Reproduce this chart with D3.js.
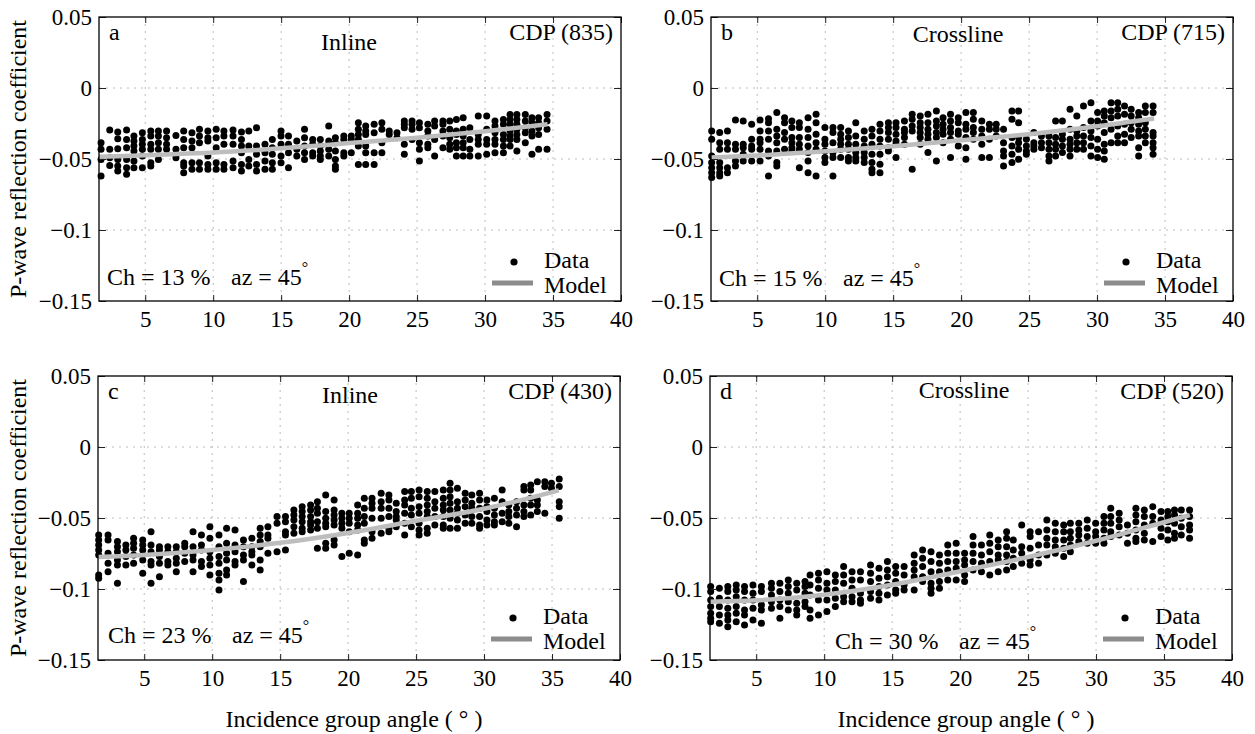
<!DOCTYPE html>
<html>
<head>
<meta charset="utf-8">
<script src="https://cdn.jsdelivr.net/npm/d3@7"></script>
<style>
  body { margin: 0; background: #fff; }
  svg { display: block; font-family: "Liberation Serif", "Times New Roman", serif; }
</style>
</head>
<body>
<svg id="chart" width="1255" height="734"></svg>
<script>
// Reflection coefficients are kept in units of 1e-3 (divided by 1000 when drawn)

// panel a - Inline, CDP (835)
var aAngles = [1.75, 2.39, 2.98, 3.63, 4.17, 4.79, 5.41, 5.97, 6.57, 7.26, 7.83, 8.44, 8.99, 9.61, 10.22, 10.79, 11.46, 12.08, 12.62, 13.19, 13.81, 14.35, 14.99, 15.54, 16.15, 16.72, 17.32, 17.88, 18.5, 18.99, 19.61, 20.16, 20.68, 21.22, 21.84, 22.41, 22.95, 23.52, 24.06, 24.63, 25.17, 25.79, 26.29, 26.9, 27.4, 27.89, 28.39, 28.88, 29.5, 30.12, 30.73, 31.35, 31.84, 32.34, 32.96, 33.45, 33.94, 34.56];
var aVals = [
  [-38.5,-43.2,-50.3,-62.0], [-29.6,-43.2,-49.1,-54.5], [-31.0,-35.7,-42.7,-50.3,-55.0,-58.5],
  [-29.6,-36.2,-42.0,-50.3,-56.1,-60.8], [-33.8,-37.3,-40.9,-44.4,-51.4,-56.1], [-31.5,-36.2,-39.7,-43.2,-47.9,-56.1],
  [-30.3,-33.8,-39.7,-43.2,-52.6,-55.0], [-30.3,-33.8,-38.5,-43.2,-50.3], [-30.3,-35.0,-39.7,-43.2],
  [-33.4,-43.2,-49.1], [-30.3,-36.2,-42.0,-52.6,-55.0,-59.6], [-31.5,-37.3,-42.0,-52.6,-57.3],
  [-29.1,-33.8,-38.5,-52.6,-57.3], [-30.3,-35.0,-37.3,-47.9,-53.8,-57.3], [-29.1,-35.0,-42.0,-52.6,-57.3],
  [-30.3,-33.8,-39.7,-53.8,-57.3], [-29.6,-33.8,-39.7,-51.4,-56.1], [-31.0,-36.2,-40.9,-45.6,-53.8,-58.5],
  [-30.3,-40.9,-50.3,-55.0], [-28.0,-40.9,-46.7,-53.8,-58.5], [-39.7,-45.6,-51.4,-57.3],
  [-36.2,-42.0,-46.7,-52.6,-57.3], [-30.3,-33.8,-39.7,-47.9,-52.6], [-33.8,-39.7,-45.6,-56.1],
  [-37.3,-43.2,-47.9], [-29.1,-35.0,-40.9,-45.6,-50.3], [-36.2,-39.7,-45.6,-47.9],
  [-36.2,-40.9,-44.4,-47.9,-50.3], [-26.8,-37.3,-43.2,-47.9], [-35.0,-38.5,-44.4,-50.3,-55.0,-57.3],
  [-33.8,-36.2,-45.6,-47.9], [-33.8,-36.2,-45.6], [-24.4,-29.1,-32.7,-36.2,-40.9,-53.8],
  [-26.8,-30.3,-32.7,-40.9,-45.6,-53.8], [-25.6,-31.5,-45.6,-53.8], [-24.4,-29.1,-38.5,-45.6],
  [-30.3,-32.7], [-31.5,-35.0], [-23.3,-25.6,-28.0,-39.7,-46.7],
  [-23.3,-25.6,-29.1,-36.2], [-24.4,-28.0,-38.5,-43.2,-51.4], [-25.6,-30.3,-33.8,-39.7,-42.0],
  [-23.3,-26.8,-36.2,-47.9], [-23.3,-25.6,-30.3,-33.8,-42.0], [-23.3,-29.1,-35.0,-39.7,-43.2],
  [-22.1,-30.3,-32.7,-38.5,-42.0,-47.9], [-20.9,-29.1,-33.8,-38.5,-42.0,-47.9], [-28.0,-36.2,-43.2,-47.9],
  [-19.7,-32.7,-36.2,-39.7,-47.9], [-19.7,-29.1,-36.2,-39.7,-46.7], [-23.3,-26.8,-31.5,-36.2,-39.7,-45.6],
  [-22.1,-25.6,-32.7,-36.2,-40.9,-45.6], [-18.6,-22.1,-25.6,-30.3,-33.8,-36.2,-40.9], [-18.6,-22.1,-25.6,-29.1,-32.7,-36.2,-44.4],
  [-18.6,-23.3,-28.0,-31.5,-38.5], [-20.9,-24.4,-30.3,-33.8,-46.7], [-20.9,-24.4,-28.0,-32.7,-43.2],
  [-18.6,-23.3,-29.1,-43.2]
];
var aModelAngles = [1.6, 5, 10, 15, 20, 25, 30, 34.6];
var aModel = [-48.5, -47.3, -45.5, -42.5, -38.8, -35, -30.5, -25.6];

// panel b - Crossline, CDP (715)
var bAngles = [1.65, 2.24, 2.81, 3.40, 3.97, 4.59, 5.21, 5.83, 6.44, 7.01, 7.55, 8.10, 8.74, 9.33, 9.98, 10.57, 11.14, 11.71, 12.25, 12.87, 13.44, 14.03, 14.65, 15.21, 15.83, 16.40, 16.99, 17.56, 18.18, 18.67, 19.22, 19.79, 20.35, 20.90, 21.52, 22.08, 22.58, 23.12, 23.74, 24.23, 24.80, 25.35, 25.91, 26.46, 26.95, 27.45, 28.01, 28.51, 29.00, 29.55, 30.04, 30.53, 31.03, 31.52, 32.02, 32.51, 33.06, 33.55, 34.12];
var bVals = [
  [-30.2,-36.1,-47.8,-52.5,-56.1,-59.6,-63.1], [-31.4,-38.5,-43.2,-52.5,-56.1,-59.6,-61.9], [-30.2,-38.5,-43.2,-56.1,-59.6],
  [-22.5,-39.6,-43.2,-51.4,-54.9], [-23.2,-39.6,-42.0,-46.7,-51.4], [-25.6,-36.1,-40.8,-43.2,-51.4],
  [-22.5,-30.2,-36.1,-38.5,-43.2,-51.4], [-21.6,-24.4,-30.2,-36.1,-44.3,-47.8,-61.9], [-17.3,-29.1,-33.8,-38.5,-44.3,-52.5,-54.9],
  [-20.9,-24.4,-31.4,-36.1,-43.2], [-23.2,-27.9,-34.9,-38.5,-42.0,-44.3], [-24.4,-27.9,-34.9,-39.6,-43.2,-56.1],
  [-20.9,-29.1,-34.9,-40.8,-45.5,-51.4,-59.6], [-18.5,-24.4,-32.6,-38.5,-43.2,-61.9], [-27.9,-36.1,-39.6,-44.3,-49.0,-52.5],
  [-27.9,-31.4,-38.5,-45.5,-49.0,-61.9], [-27.9,-32.6,-36.1,-39.6,-43.2,-49.0], [-30.2,-34.9,-39.6,-43.2,-49.0,-51.4],
  [-24.4,-33.8,-39.6,-45.5,-49.0,-51.4], [-30.2,-36.1,-40.8,-45.5,-49.0,-52.5], [-29.1,-33.8,-39.6,-46.7,-52.5,-57.2,-59.6],
  [-25.6,-30.2,-36.1,-40.8,-46.7,-53.7,-59.6], [-24.4,-27.9,-31.4,-36.1,-42.0,-44.3], [-24.4,-27.9,-32.6,-37.3,-39.6,-49.0],
  [-23.2,-29.1,-31.4,-34.9,-39.6], [-18.5,-22.0,-26.7,-30.2,-57.2], [-19.7,-24.4,-27.9,-31.4,-34.9,-39.6],
  [-18.5,-24.4,-29.1,-32.6,-36.1,-45.5], [-16.2,-23.2,-26.7,-31.4,-34.9,-51.4], [-20.9,-25.6,-29.1,-32.6,-38.5],
  [-18.5,-23.2,-27.9,-31.4,-36.1,-49.0], [-20.9,-24.4,-30.2,-32.6,-40.8], [-17.3,-25.6,-29.1,-34.9,-42.0,-50.2],
  [-17.3,-22.0,-27.9,-31.4,-36.1], [-23.2,-29.1,-33.8,-39.6,-49.0], [-25.6,-29.1,-36.1,-49.0],
  [-25.6,-29.1,-33.8], [-29.1,-38.5,-44.3,-47.8,-54.9], [-16.2,-22.0,-34.9,-40.8,-46.7,-52.5],
  [-16.2,-24.4,-34.9,-38.5,-43.2,-50.2], [-36.1,-40.8,-44.3,-46.7], [-31.4,-38.5,-40.8,-43.2],
  [-33.8,-38.5,-42.0], [-33.8,-38.5,-43.2,-47.8,-51.4], [-23.2,-34.9,-39.6,-43.2,-47.8],
  [-23.2,-32.6,-36.1,-40.8,-45.5], [-15.0,-29.1,-36.1,-39.6,-43.2,-47.8], [-19.7,-30.2,-33.8,-38.5,-43.2],
  [-12.6,-27.9,-33.8,-38.5,-43.2], [-10.3,-23.2,-30.2,-34.9,-40.8,-47.8], [-17.3,-23.2,-26.7,-36.1,-43.2,-49.0],
  [-16.2,-19.7,-24.4,-31.4,-39.6,-44.3,-50.2], [-10.3,-16.2,-20.9,-29.1,-38.5], [-10.3,-15.0,-19.7,-26.7,-33.8,-38.5],
  [-12.6,-18.5,-25.6,-32.6,-38.5], [-15.0,-19.7,-24.4,-29.1,-34.9], [-17.3,-20.9,-25.6,-30.2,-33.8,-42.0,-47.8],
  [-12.6,-17.3,-24.4,-29.1,-33.8,-38.5], [-12.6,-17.3,-31.4,-33.8,-38.5,-42.0,-46.7]
];
var bModelAngles = [1.6, 5, 10, 15, 20, 25, 30, 34.2];
var bModel = [-49, -47.5, -44.5, -41, -36.8, -32.5, -27, -21.5];

// panel c - Inline, CDP (430)
var cAngles = [1.65, 2.34, 3.03, 3.65, 4.22, 4.89, 5.50, 6.12, 6.74, 7.36, 7.98, 8.59, 9.21, 9.83, 10.50, 11.06, 11.68, 12.30, 12.92, 13.53, 14.10, 14.77, 15.39, 16.01, 16.62, 17.24, 17.74, 18.35, 18.97, 19.54, 20.08, 20.70, 21.19, 21.76, 22.43, 23.00, 23.54, 24.16, 24.65, 25.22, 25.82, 26.38, 27.00, 27.50, 28.04, 28.61, 29.10, 29.67, 30.21, 30.76, 31.33, 31.82, 32.39, 32.93, 33.43, 33.92, 34.47, 34.96, 35.53];
var cVals = [
  [-61.9,-65.5,-69.0,-72.5,-76.0,-90.1,-92.5], [-61.9,-65.5,-74.9,-81.9,-87.8], [-66.6,-70.2,-73.7,-79.5,-83.1,-96.0],
  [-69.0,-72.5,-77.2,-83.1], [-64.3,-67.8,-71.3,-76.0,-81.9], [-65.5,-69.0,-72.5,-79.5,-88.9],
  [-59.6,-69.0,-73.7,-80.7,-83.1,-96.0], [-70.2,-72.5,-77.2,-81.9,-91.3], [-70.2,-73.7,-80.7,-83.1],
  [-70.2,-73.7,-78.4,-81.9,-87.8], [-67.8,-70.2,-74.9,-80.7], [-59.6,-70.2,-76.0,-79.5,-87.8],
  [-61.9,-69.0,-72.5,-80.7,-84.2], [-56.1,-64.3,-73.7,-78.4,-83.1,-90.1], [-61.9,-70.2,-77.2,-81.9,-88.9,-93.6,-100.7],
  [-57.3,-67.8,-74.9,-79.5,-86.6,-90.1], [-58.4,-69.0,-73.7,-80.7,-83.1], [-65.5,-70.2,-76.0,-79.5,-94.8],
  [-64.3,-70.2,-73.7,-76.0,-83.1], [-57.3,-61.9,-66.6,-70.2,-79.5,-86.6], [-56.1,-61.9,-64.3,-74.9],
  [-49.0,-53.7,-73.7], [-49.0,-52.6,-59.6,-61.9,-72.5], [-44.3,-47.9,-51.4,-56.1,-60.8],
  [-42.0,-45.5,-49.0,-52.6,-57.3,-59.6], [-40.8,-44.3,-49.0,-52.6,-54.9,-58.4], [-38.5,-43.2,-46.7,-52.6,-57.3,-71.3],
  [-33.8,-45.5,-50.2,-53.7,-56.1,-67.8,-71.3], [-37.3,-44.3,-47.9,-51.4,-54.9,-65.5,-69.0], [-46.7,-50.2,-53.7,-57.3,-77.2],
  [-46.7,-50.2,-53.7,-59.6,-74.9], [-40.8,-46.7,-50.2,-54.9,-58.4,-76.0], [-36.1,-43.2,-49.0,-53.7,-65.5,-67.8],
  [-36.1,-39.6,-43.2,-50.2,-59.6,-64.3], [-32.6,-38.5,-43.2,-50.2,-60.8], [-33.8,-37.3,-43.2,-49.0,-57.3,-59.6],
  [-39.6,-45.5,-49.0,-51.4,-56.1], [-31.4,-37.3,-40.8,-46.7,-53.7,-61.9], [-31.4,-36.1,-43.2,-47.9,-56.1],
  [-30.3,-35.0,-42.0,-46.7,-53.7,-58.4,-61.9], [-31.4,-36.1,-40.8,-45.5,-49.0,-57.3,-60.8], [-31.4,-38.5,-43.2,-49.0,-54.9],
  [-30.3,-36.1,-40.8,-44.3,-49.0,-54.9,-57.3], [-25.6,-30.3,-35.0,-39.6,-44.3,-50.2,-57.3], [-29.1,-38.5,-43.2,-46.7,-51.4,-57.3],
  [-32.6,-37.3,-42.0,-47.9,-53.7], [-33.8,-39.6,-43.2,-49.0,-53.7], [-32.6,-37.3,-43.2,-49.0,-54.9,-57.3],
  [-37.3,-42.0,-45.5,-51.4,-54.9], [-36.1,-43.2,-47.9,-52.6,-54.9], [-30.3,-38.5,-46.7,-52.6],
  [-40.8,-45.5,-49.0,-53.7], [-38.5,-43.2,-47.9,-56.1], [-27.9,-30.3,-40.8,-45.5,-49.0],
  [-26.7,-30.3,-36.1,-40.8,-47.9], [-24.4,-37.3,-40.8,-45.5], [-24.4,-27.9,-46.7],
  [-25.6,-29.1], [-22.5,-27.9,-38.5,-42.0,-50.2]
];
var cModelAngles = [1.6, 5, 10, 15, 20, 25, 30, 35.5];
var cModel = [-77.5, -76, -72.5, -67.5, -60.5, -52, -43.5, -30.5];

// panel d - Crossline, CDP (520)
var dAngles = [1.65, 2.29, 2.91, 3.53, 4.14, 4.76, 5.38, 6.12, 6.74, 7.36, 7.98, 8.59, 8.96, 9.58, 10.20, 10.82, 11.43, 12.05, 12.67, 13.41, 14.03, 14.65, 15.26, 15.88, 16.62, 17.24, 17.86, 18.48, 19.09, 19.71, 20.33, 20.95, 21.57, 22.18, 22.80, 23.42, 23.91, 24.53, 25.15, 25.77, 26.38, 27.00, 27.62, 28.11, 28.73, 29.35, 29.97, 30.58, 31.08, 31.70, 32.31, 32.93, 33.55, 34.17, 34.78, 35.28, 35.77, 36.27, 36.88];
var dVals = [
  [-98.3,-101.8,-107.7,-112.4,-117.1,-120.6,-123.0], [-99.5,-106.5,-112.4,-118.3,-124.1], [-98.3,-101.8,-107.7,-113.6,-118.3,-121.8,-126.5],
  [-97.1,-100.7,-105.4,-112.4,-117.1,-123.0], [-98.3,-101.8,-107.7,-114.8,-118.3,-125.3], [-97.1,-103.0,-107.7,-113.6,-121.8],
  [-98.3,-101.8,-111.2,-114.8,-124.1], [-96.0,-99.5,-104.2,-108.9,-113.6], [-96.0,-101.8,-107.7,-112.4,-120.6],
  [-93.6,-98.3,-103.0,-108.9,-114.8], [-96.0,-100.7,-110.1,-114.8,-118.3], [-94.8,-98.3,-103.0,-108.9,-112.4],
  [-90.1,-97.1,-104.2,-114.8,-120.6], [-88.9,-93.6,-99.5,-107.7,-118.3], [-87.8,-96.0,-100.7,-107.7,-115.9],
  [-90.1,-94.8,-100.7,-106.5,-112.4], [-84.2,-90.1,-96.0,-105.4,-108.9], [-87.8,-93.6,-99.5,-105.4,-108.9],
  [-87.8,-93.6,-103.0,-107.7,-110.1], [-83.1,-88.9,-94.8,-101.8,-106.5], [-85.4,-92.5,-98.3,-103.0,-107.7],
  [-80.7,-86.6,-91.3,-97.1,-104.2], [-84.2,-88.9,-94.8,-100.7,-103.0], [-84.2,-90.1,-97.1,-100.7],
  [-76.0,-81.9,-86.6,-91.3,-100.7], [-72.5,-78.4,-84.2,-91.3,-94.8], [-73.7,-80.7,-87.8,-96.0,-99.5,-103.0],
  [-76.0,-81.9,-87.8,-94.8,-99.5], [-69.0,-74.9,-80.7,-86.6,-93.6], [-67.8,-74.9,-80.7,-85.4,-93.6],
  [-74.9,-79.5,-83.1,-90.1,-94.8], [-63.1,-69.0,-74.9,-80.7,-86.6], [-69.0,-76.0,-81.9,-87.8],
  [-61.9,-67.8,-73.7,-80.7,-90.1], [-65.5,-70.2,-76.0,-79.5,-87.8], [-59.6,-64.3,-70.2,-76.0,-80.7,-86.6],
  [-65.5,-72.5,-78.4,-84.2], [-54.9,-70.2,-74.9,-81.9], [-59.6,-63.1,-71.3,-79.5,-83.1],
  [-59.6,-69.0,-76.0,-81.9], [-51.4,-58.4,-64.3,-69.0,-76.0], [-53.7,-59.6,-65.5,-70.2,-74.9],
  [-54.9,-59.6,-65.5,-71.3,-77.2], [-53.7,-59.6,-64.3,-69.0,-73.7], [-53.7,-58.4,-61.9,-66.6],
  [-51.4,-57.3,-63.1,-67.8], [-53.7,-59.6,-63.1,-67.8], [-49.0,-53.7,-58.4,-64.3,-67.8],
  [-43.2,-49.0,-53.7,-59.6,-63.1], [-46.7,-51.4,-56.1,-61.9], [-54.9,-60.8,-67.8],
  [-43.2,-47.9,-52.6,-58.4,-64.3,-66.6], [-44.3,-49.0,-54.9,-60.8,-65.5], [-42.0,-49.0,-53.7,-66.6],
  [-45.5,-51.4,-57.3,-63.1], [-45.5,-49.0,-52.6,-58.4,-65.5], [-44.3,-47.9,-53.7,-60.8,-64.3],
  [-44.3,-50.2,-56.1,-61.9], [-44.3,-49.0,-54.9,-58.4,-64.3]
];
var dModelAngles = [1.6, 5, 10, 15, 20, 25, 30, 35, 36.9];
var dModel = [-109, -108, -104, -97, -87.5, -77.5, -66, -53, -48];

// axes
var xTicks = [5, 10, 15, 20, 25, 30, 35, 40];
var yTicks = [0.05, 0, -0.05, -0.1, -0.15];
var yTickLabels = ['0.05', '0', '\u22120.05', '\u22120.1', '\u22120.15'];

var svg = d3.select('#chart');
var W = 522, H = 284;

var panels = [
  {letter: 'a', title: 'Inline', cdp: 'CDP (835)', ch: 'Ch = 13 %', angles: aAngles, vals: aVals, mAng: aModelAngles, model: aModel,
   left: 99, top: 17, titleX: 250, titleY: 33, chX: 8, chY: 16, legY: 0, ylab: true},
  {letter: 'b', title: 'Crossline', cdp: 'CDP (715)', ch: 'Ch = 15 %', angles: bAngles, vals: bVals, mAng: bModelAngles, model: bModel,
   left: 711, top: 17, titleX: 247, titleY: 25, chX: 8, chY: 15, legY: 0, ylab: false},
  {letter: 'c', title: 'Inline', cdp: 'CDP (430)', ch: 'Ch = 23 %', angles: cAngles, vals: cVals, mAng: cModelAngles, model: cModel,
   left: 98, top: 376, titleX: 252, titleY: 27, chX: 10, chY: 17, legY: -3, ylab: true},
  {letter: 'd', title: 'Crossline', cdp: 'CDP (520)', ch: 'Ch = 30 %', angles: dAngles, vals: dVals, mAng: dModelAngles, model: dModel,
   left: 710, top: 376, titleX: 254, titleY: 22, chX: 125, chY: 11, legY: -3, ylab: false}
];

function drawPanel(p) {
  var x = d3.scaleLinear().domain([1.6, 40]).range([p.left, p.left + W]);
  var y = d3.scaleLinear().domain([-0.15, 0.05]).range([p.top + H, p.top]);
  var right = p.left + W, bottom = p.top + H;
  var g = svg.append('g');

  // dotted grid
  g.selectAll('line.vgrid').data(xTicks.slice(0, -1)).enter().append('line')
    .attr('x1', function(d) { return x(d); }).attr('x2', function(d) { return x(d); })
    .attr('y1', p.top).attr('y2', bottom)
    .attr('stroke', '#bcbcbc').attr('stroke-dasharray', '2,5');
  g.selectAll('line.hgrid').data(yTicks.slice(1, -1)).enter().append('line')
    .attr('y1', function(d) { return y(d); }).attr('y2', function(d) { return y(d); })
    .attr('x1', p.left).attr('x2', right)
    .attr('stroke', '#bcbcbc').attr('stroke-dasharray', '2,5');

  // data points
  var pts = [];
  p.angles.forEach(function(a, i) {
    p.vals[i].forEach(function(v) { pts.push([a, v / 1000]); });
  });
  g.selectAll('circle.pt').data(pts).enter().append('circle')
    .attr('cx', function(d) { return x(d[0]); })
    .attr('cy', function(d) { return y(d[1]); })
    .attr('r', 3.5).attr('fill', '#000');

  // model curve
  var line = d3.line()
    .x(function(d) { return x(d[0]); })
    .y(function(d) { return y(d[1] / 1000); })
    .curve(d3.curveMonotoneX);
  g.append('path').attr('d', line(d3.zip(p.mAng, p.model)))
    .attr('fill', 'none').attr('stroke', '#bdbdbd').attr('stroke-width', 4.5);

  // axes, ticks pointing inward
  var ax = g.append('g').attr('transform', 'translate(0,' + bottom + ')')
    .call(d3.axisBottom(x).tickValues(xTicks).tickSizeInner(-6).tickSizeOuter(0).tickPadding(10));
  var ay = g.append('g').attr('transform', 'translate(' + p.left + ',0)')
    .call(d3.axisLeft(y).tickValues(yTicks).tickSizeInner(-7).tickSizeOuter(0).tickPadding(7)
      .tickFormat(function(d, i) { return yTickLabels[i]; }));
  var at = g.append('g').attr('transform', 'translate(0,' + p.top + ')')
    .call(d3.axisTop(x).tickValues(xTicks).tickSizeInner(-6).tickSizeOuter(0).tickFormat(''));
  var ar = g.append('g').attr('transform', 'translate(' + right + ',0)')
    .call(d3.axisRight(y).tickValues(yTicks).tickSizeInner(-7).tickSizeOuter(0).tickFormat(''));
  [ax, ay, at, ar].forEach(function(a) {
    a.select('.domain').remove();
    a.selectAll('line').attr('stroke', '#222');
    a.selectAll('text').attr('font-family', '"Liberation Serif", serif').attr('font-size', 23).attr('fill', '#000');
  });

  // frame
  g.append('rect').attr('x', p.left).attr('y', p.top).attr('width', W).attr('height', H)
    .attr('fill', 'none').attr('stroke', '#000').attr('stroke-width', 1.3);

  // labels inside the frame
  g.append('text').attr('x', p.left + 10).attr('y', p.top + 23).attr('font-size', 24).text(p.letter);
  g.append('text').attr('x', p.left + p.titleX).attr('y', p.top + p.titleY).attr('text-anchor', 'middle')
    .attr('font-size', 24).text(p.title);
  g.append('text').attr('x', right - 8).attr('y', p.top + 23).attr('text-anchor', 'end')
    .attr('font-size', 24).text(p.cdp);

  g.append('text').attr('x', p.left + p.chX).attr('y', bottom - p.chY).attr('font-size', 24).text(p.ch);
  var az = g.append('text').attr('x', p.left + p.chX + 124).attr('y', bottom - p.chY).attr('font-size', 24);
  az.append('tspan').text('az = 45');
  az.append('tspan').attr('dy', -12).attr('font-size', 16).text('\u00b0');

  // legend
  var ly = bottom + p.legY;
  g.append('circle').attr('cx', right - 107).attr('cy', ly - 39).attr('r', 3.6).attr('fill', '#000');
  g.append('text').attr('x', right - 77).attr('y', ly - 33).attr('font-size', 24).text('Data');
  g.append('line').attr('x1', right - 129).attr('x2', right - 88).attr('y1', ly - 18).attr('y2', ly - 18)
    .attr('stroke', '#8c8c8c').attr('stroke-width', 5);
  g.append('text').attr('x', right - 77).attr('y', ly - 8).attr('font-size', 24).text('Model');

  // axis titles
  if (p.ylab) {
    svg.append('text').attr('transform', 'translate(26,' + (p.top + H / 2) + ') rotate(-90)')
      .attr('text-anchor', 'middle').attr('font-size', 24).text('P-wave reflection coefficient');
  }
  if (p.top > 300) {
    svg.append('text').attr('x', p.left + W / 2 - 5).attr('y', 727).attr('text-anchor', 'middle')
      .attr('font-size', 24).text('Incidence group angle ( \u00b0 )');
  }
}

panels.forEach(drawPanel);
</script>
</body>
</html>
